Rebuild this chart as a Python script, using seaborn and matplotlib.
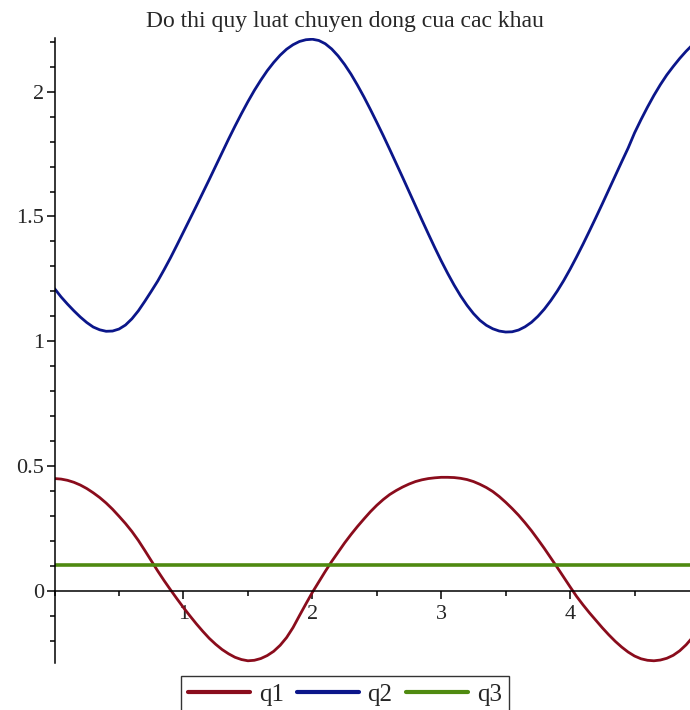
import numpy as np
import pandas as pd
import matplotlib
matplotlib.use("Agg")
import matplotlib.pyplot as plt
import seaborn as sns
from matplotlib.ticker import MultipleLocator

# values, every 0.05 along t
t = [round(0.05 * i, 2) for i in range(100)]

q1 = [0.450, 0.448, 0.443, 0.435, 0.424, 0.410, 0.393, 0.374, 0.352, 0.327,
      0.299, 0.270, 0.238, 0.202, 0.162, 0.121, 0.080, 0.041, 0.004, -0.032,
      -0.067, -0.100, -0.132, -0.162, -0.190, -0.214, -0.235, -0.252, -0.266, -0.275,
      -0.280, -0.278, -0.271, -0.259, -0.242, -0.218, -0.187, -0.147, -0.099, -0.052,
      -0.006, 0.036, 0.078, 0.118, 0.155, 0.192, 0.226, 0.258, 0.288, 0.317,
      0.343, 0.366, 0.386, 0.402, 0.416, 0.428, 0.438, 0.445, 0.450, 0.453,
      0.455, 0.455, 0.454, 0.451, 0.446, 0.438, 0.427, 0.414, 0.398, 0.378,
      0.355, 0.330, 0.303, 0.273, 0.241, 0.206, 0.170, 0.132, 0.094, 0.055,
      0.016, -0.022, -0.056, -0.088, -0.118, -0.148, -0.176, -0.202, -0.225, -0.245,
      -0.261, -0.272, -0.278, -0.280, -0.277, -0.270, -0.258, -0.240, -0.216, -0.186]

q2 = [1.211, 1.178, 1.149, 1.122, 1.097, 1.075, 1.057, 1.046, 1.040, 1.041,
      1.049, 1.065, 1.090, 1.122, 1.160, 1.200, 1.241, 1.287, 1.335, 1.386,
      1.438, 1.490, 1.542, 1.595, 1.648, 1.702, 1.756, 1.810, 1.862, 1.912,
      1.960, 2.005, 2.046, 2.084, 2.117, 2.146, 2.170, 2.188, 2.201, 2.208,
      2.210, 2.205, 2.192, 2.171, 2.143, 2.109, 2.070, 2.026, 1.979, 1.929,
      1.877, 1.824, 1.769, 1.713, 1.657, 1.600, 1.543, 1.486, 1.430, 1.375,
      1.322, 1.272, 1.225, 1.182, 1.144, 1.111, 1.084, 1.064, 1.050, 1.041,
      1.037, 1.038, 1.045, 1.058, 1.076, 1.100, 1.129, 1.163, 1.201, 1.243,
      1.289, 1.338, 1.389, 1.442, 1.496, 1.551, 1.607, 1.663, 1.719, 1.774,
      1.835, 1.888, 1.938, 1.985, 2.028, 2.067, 2.101, 2.133, 2.162, 2.188]

q3 = [0.104] * len(t)

names = ["q1", "q2", "q3"]
colors = {"q1": "#8a0c1c", "q2": "#0b168a", "q3": "#4f8a10"}

df = pd.concat([
    pd.DataFrame({"t": t, "value": vals, "series": name})
    for name, vals in zip(names, [q1, q2, q3])
])

sns.set_style("ticks")
plt.rcParams["font.family"] = ["Liberation Serif", "DejaVu Serif"]

fig = plt.figure(figsize=(6.9, 7.1), dpi=100)
ax = fig.add_axes([0.0791, 0.0658, 0.9209, 0.8807])

sns.lineplot(data=df, x="t", y="value", hue="series", palette=colors,
             linewidth=2.0, ax=ax, legend=False, sort=False)
ax.lines[2].set_linewidth(2.6)

ax.set_xlim(0, 4.93)
ax.set_ylim(-0.29, 2.215)
ax.set_xlabel("")
ax.set_ylabel("")

for side in ["top", "right"]:
    ax.spines[side].set_visible(False)
ax.spines["bottom"].set_position(("data", 0))
ax.spines["left"].set_position(("data", 0))
for side in ["bottom", "left"]:
    ax.spines[side].set_linewidth(1.1)
    ax.spines[side].set_color("black")

ax.xaxis.set_minor_locator(MultipleLocator(0.5))
ax.yaxis.set_minor_locator(MultipleLocator(0.1))
ax.set_xticks([1, 2, 3, 4])
ax.set_xticklabels(["1", "2", "3", "4"])
ax.set_yticks([0, 0.5, 1, 1.5, 2])
ax.set_yticklabels(["0", "0.5", "1", "1.5", "2"])

ax.tick_params(axis="both", which="major", direction="out", length=6, width=1.1,
               color="black", labelsize=16, bottom=True, left=True)
ax.tick_params(axis="both", which="minor", direction="out", length=3.5, width=1.1,
               color="black", bottom=True, left=True)
ax.tick_params(axis="x", which="major", pad=4)
ax.tick_params(axis="y", which="major", pad=1.5)

fig.text(0.5, 1 - 22 / 710, "Do thi quy luat chuyen dong cua cac khau",
         ha="center", va="center", fontsize=17)

handles = [plt.Line2D([], [], color=colors[n], linewidth=3) for n in names]
leg = fig.legend(handles, names, loc="upper center", bbox_to_anchor=(0.5, 1 - 676 / 710),
                 ncol=3, frameon=True, fancybox=False, fontsize=18,
                 handlelength=2.45, handletextpad=0.36, columnspacing=0.55,
                 borderpad=0.3, borderaxespad=0)
leg.get_frame().set_edgecolor("black")
leg.get_frame().set_linewidth(1.0)

fig.savefig("out.png", dpi=100)
